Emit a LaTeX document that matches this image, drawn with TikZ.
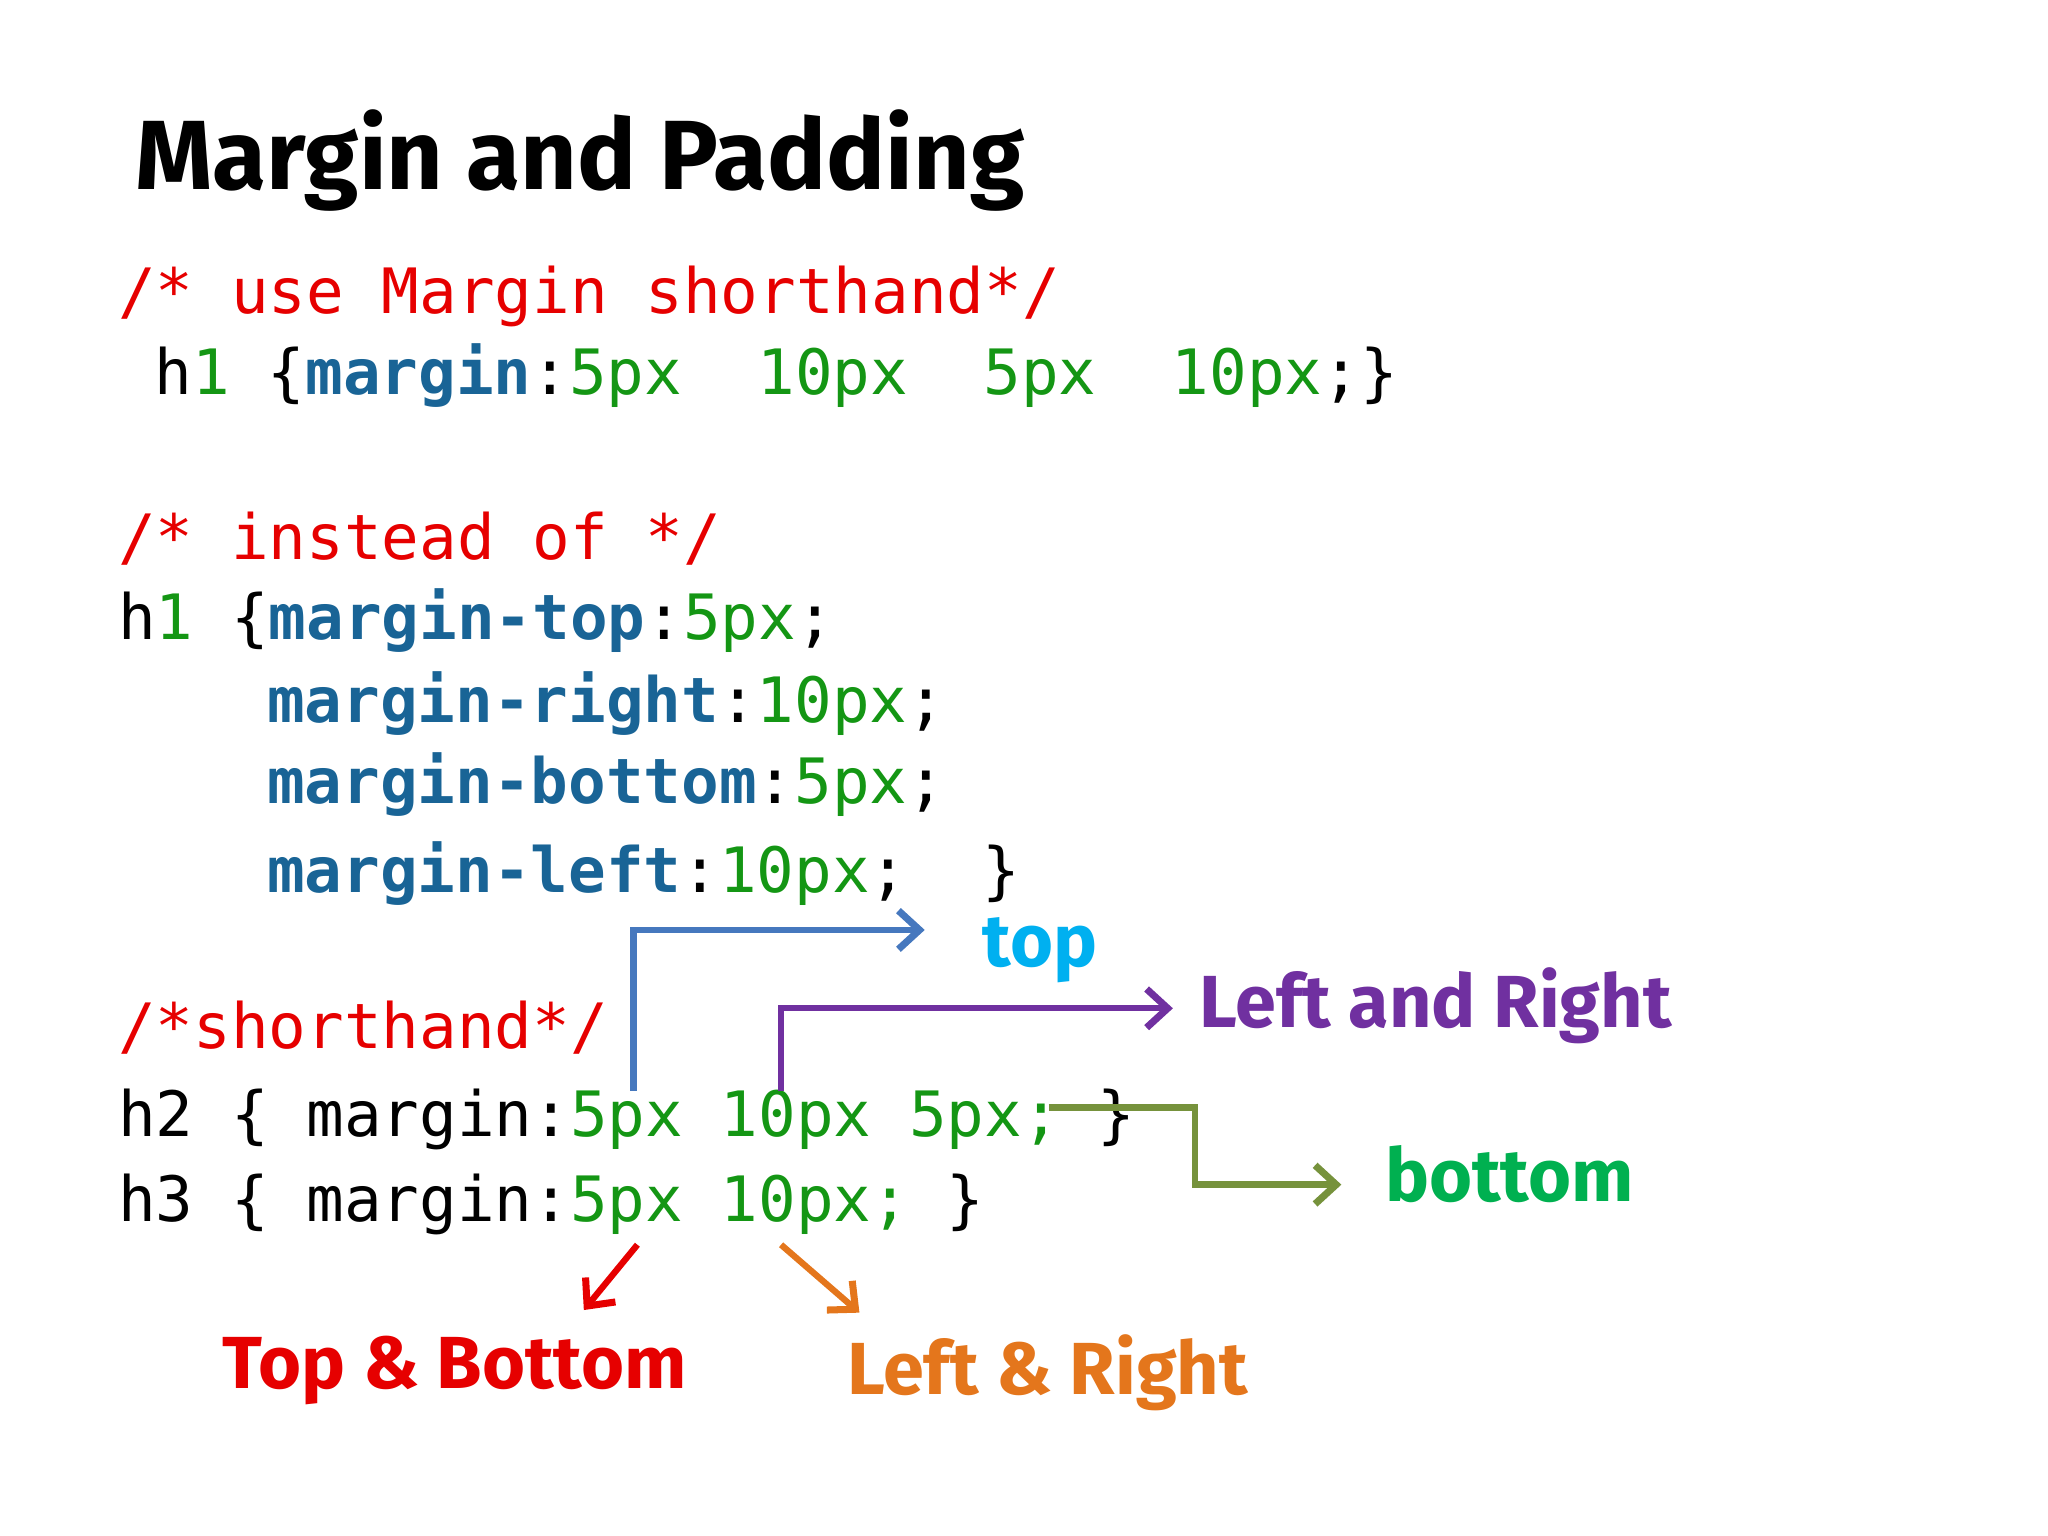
\documentclass[tikz,border=0pt]{standalone}
\usepackage{fontspec}
\setmonofont{DejaVu Sans Mono}
\newfontfamily\labelfont{Fira Sans}
\usetikzlibrary{arrows.meta}
\definecolor{cred}{RGB}{230,0,0}
\definecolor{ckey}{RGB}{25,100,150}
\definecolor{cval}{RGB}{20,150,20}
\definecolor{ctop}{RGB}{0,176,240}
\definecolor{clr}{RGB}{112,48,160}
\definecolor{cbot}{RGB}{0,176,80}
\definecolor{corg}{RGB}{228,118,28}
\definecolor{cblu}{RGB}{70,120,190}
\definecolor{coli}{RGB}{118,146,60}
\newcommand{\kw}[1]{\textcolor{ckey}{\textbf{#1}}}
\newcommand{\vl}[1]{\textcolor{cval}{#1}}
\begin{document}
\begin{tikzpicture}[x=0.01306cm, y=-0.01306cm]
\tikzset{ >={Straight Barb[length=6pt,width=11pt,line width=2pt]},
  code/.style={anchor=base west, inner sep=0pt, font=\ttfamily\fontsize{17.8}{20}\selectfont},
  lbl/.style={anchor=base west, inner sep=0pt, font=\labelfont\bfseries\fontsize{21}{24}\selectfont},
  arr/.style={->, line width=1.8pt},
}

\useasboundingbox (0,0) rectangle (1568,1176);

% title
\node [anchor=base west, inner sep=0pt, font=\labelfont\bfseries\fontsize{28}{32}\selectfont] (title) at (103,145) {Margin and Padding};

% code lines
\node [code, text=cred] (c1) at (90,240) {/*~use~Margin~shorthand*/};
\node [code] (c2) at (118,302) {h\vl{1}~\{\kw{margin}:\vl{5px~~10px~~5px~~10px};\}};
\node [code, text=cred] (c3) at (90,428) {/*~instead~of~*/};
\node [code] (c4) at (90,490) {h\vl{1}~\{\kw{margin-top}:\vl{5px};};
\node [code] (c5) at (204,553) {\kw{margin-right}:\vl{10px};};
\node [code] (c6) at (204,615) {\kw{margin-bottom}:\vl{5px};};
\node [code] (c7) at (204,683) {\kw{margin-left}:\vl{10px};~~\}};
\node [code, text=cred] (c8) at (90,803) {/*shorthand*/};
\node [code] (c9) at (90,870) {h2~\{~margin:\vl{5px~10px~5px;}~\}};
\node [code] (c10) at (90,935) {h3~\{~margin:\vl{5px~10px;}~\}};

% labels
\node [lbl, text=ctop] (top) at (752,740) {top};
\node [lbl, text=clr] (lr) at (918,787) {Left and Right};
\node [lbl, text=cbot] (bot) at (1060,920) {bottom};
\node [lbl, text=cred] (tb) at (170,1063) {Top \& Bottom};
\node [lbl, text=corg] (lr2) at (648,1068) {Left \& Right};

% connectors
\coordinate (s1) at (485,835);
\coordinate (s2) at (598,835);
\coordinate (s3) at (803,848);
\coordinate (s4) at (488,953);
\coordinate (s5) at (598,953);
\coordinate (e1) at (708,712);
\coordinate (e2) at (898,772);
\coordinate (e3) at (1027,907);

\draw [arr, cblu] (s1) |- (e1);
\draw [arr, clr] (s2) |- (e2);
\draw [arr, coli] (s3) -| (915,907) -- (e3);
\draw [arr, cred] (s4) -- (447,1003);
\draw [arr, corg] (s5) -- (658,1005);

\end{tikzpicture}
\end{document}
